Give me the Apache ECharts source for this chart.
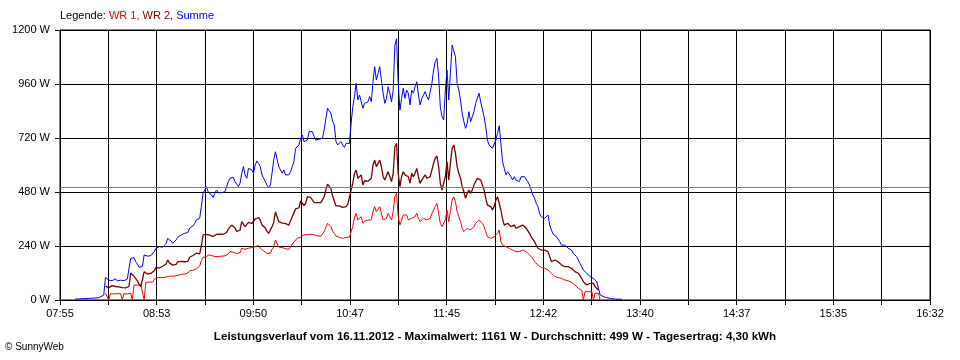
<!DOCTYPE html>
<html><head><meta charset="utf-8">
<script src="https://cdn.jsdelivr.net/npm/echarts@6/dist/echarts.min.js"></script>
<style>html,body{margin:0;padding:0;background:#fff}#c{width:960px;height:360px}</style>
</head><body><div id="c"></div>
<script>
// ---- data ----
const headTimes = ["08:04","08:09","08:14","08:18","08:19","08:21"];
const headSumme = [4, 6, 8, 10, 18, 22];

const times = [
"08:22","08:23","08:24","08:25","08:26","08:27","08:28","08:29","08:30","08:31","08:32","08:33","08:34","08:35","08:36","08:37","08:38","08:39","08:40","08:41","08:42","08:43","08:44","08:45","08:46","08:47","08:48","08:49","08:50","08:51","08:52","08:53","08:54","08:55","08:56","08:57","08:58","08:59",
"09:00","09:01","09:02","09:03","09:04","09:05","09:06","09:07","09:08","09:09","09:10","09:11","09:12","09:13","09:14","09:15","09:16","09:17","09:18","09:19","09:20","09:21","09:22","09:23","09:24","09:25","09:26","09:27","09:28","09:29","09:30","09:31","09:32","09:33","09:34","09:35","09:36","09:37","09:38","09:39","09:40","09:41","09:42","09:43","09:44","09:45","09:46","09:47","09:48","09:49","09:50","09:51","09:52","09:53","09:54","09:55","09:56","09:57","09:58","09:59",
"10:00","10:01","10:02","10:03","10:04","10:05","10:06","10:07","10:08","10:09","10:10","10:11","10:12","10:13","10:14","10:15","10:16","10:17","10:18","10:19","10:20","10:21","10:22","10:23","10:24","10:25","10:26","10:27","10:28","10:29","10:30","10:31","10:32","10:33","10:34","10:35","10:36","10:37","10:38","10:39","10:40","10:41","10:42","10:43","10:44","10:45","10:46","10:47","10:48","10:49","10:50","10:51","10:52","10:53","10:54","10:55","10:56","10:57","10:58","10:59",
"11:00","11:01","11:02","11:03","11:04","11:05","11:06","11:07","11:08","11:09","11:10","11:11","11:12","11:13","11:14","11:15","11:16","11:17","11:18","11:19","11:20","11:21","11:22","11:23","11:24","11:25","11:26","11:27","11:28","11:29","11:30","11:31","11:32","11:33","11:34","11:35","11:36","11:37","11:38","11:39","11:40","11:41","11:42","11:43","11:44","11:45","11:46","11:47","11:48","11:49","11:50","11:51","11:52","11:53","11:54","11:55","11:56","11:57","11:58","11:59",
"12:00","12:01","12:02","12:03","12:04","12:05","12:06","12:07","12:08","12:09","12:10","12:11","12:12","12:13","12:14","12:15","12:16","12:17","12:18","12:19","12:20","12:21","12:22","12:23","12:24","12:25","12:26","12:27","12:28","12:29","12:30","12:31","12:32","12:33","12:34","12:35","12:36","12:37","12:38","12:39","12:40","12:41","12:42","12:43","12:44","12:45","12:46","12:47","12:48","12:49","12:50","12:51","12:52","12:53","12:54","12:55","12:56","12:57","12:58","12:59",
"13:00","13:01","13:02","13:03","13:04","13:05","13:06","13:07","13:08","13:09","13:10","13:11","13:12","13:13","13:14","13:15","13:16"
];

const summe = [
100,95,88,92,86,90,94,85,90,88,92,86,90,93,88,
185,190,188,170,160,145,142,150,200,198, 195,193,197,195,215,230,232,237,230,235,
228,250,274,270,262,252,258,267,279,285, 289,292,296,294,300,319,325,329,340,356, 360,363,
415,474,489,504,481,474,467,456,474,489, 477,471,477,474,481,489,526,541,548,545,
526,519,504,519,563,593,556,541,585,593, 578,563,600,618,607,593,556,541,526,511,
499,511,563,622,659,652,593,578,563,578, 556,548,556,570,578,615,674,678,689,719,
733,704,696,711,748,756,748,726,711,719, 715,711,719,756,807,852,856,830,793,778,
704,689,696,704,689,678,696,700,696,
785,859,904,963,889,911,919,852,874,878, 881,904,881,970,1037,978,1007,1037,978,919,
874,896,948,919,881,933,1133,1161,960,844, 896,941,896,933,919,867,933,919,948,970,
911,867,896,911,926,904,889,926,963,1022, 1059,1074,993,859,815,800,933,1022,889,1007,
1133,1141,1081,963,933,889,830,793,763,785, 837,793,815,837,874,896,919,881,881,815,
770,711,689,689,
674,681,711,741,775,696,615,585,556,570, 563,548,533,548,533,541,526,548,556,548,
541,526,511,489,467,452,430,415,385,370, 370,363,370,378,333,311,293,289,281,274,
259,244,244,244,237,230,230,222,207,200, 193,178,163,148,133,126,119,111,104,96,
96,89,81,74,22
];

const wr2 = [
62,60,55,58,64,56,60,52,58,62,55,60,54,58,60,
120,118,105,95,85,70,60,90,126,120, 115,112,118,115,130,145,148,142,145,150,
143,160,178,165,160,155,162,158,170,168, 172,165,170,174,172,190,195,198,205,208, 210,205,
240,289,290,292,290,288,285,282,285,292, 290,293,290,292,295,300,315,318,333,330,
320,305,302,310,348,345,326,326,345,348, 340,333,360,368,366,355,333,325,320,305,
296,300,326,345,392,385,348,345,342,348, 340,333,333,335,370,372,405,405,410,440,
442,420,430,459,455,455,452,433,430,433, 430,433,440,459,490,515,512,496,462,460,
418,415,418,410,412,405,415,425,425,
489,519,563,578,541,548,556,511,530,530, 528,533,541,600,622,593,607,622,593,548,
533,541,570,548,526,563,681,696,560,504, 548,570,556,563,548,519,563,548,563,585,
548,519,533,541,556,541,533,548,578,607, 630,640,593,519,489,481,548,615,533,607,
674,689,652,593,563,541,504,481,452,474, 489,474,489,511,526,541,548,533,530,489,
452,422,415,415,
400,415,444,459,465,400,360,333,326,341, 341,326,319,333,319,326,326,333,333,326,
319,311,296,281,274,259,244,230,230,222, 222,222,230,215,193,170,163,178,170,170,
163,156,148,148,148,148,148,141,133,126, 119,119,111,96,81,74,67,67,74,67,
74,59,52,44,null
];

const wr1 = [
30,30,0,28,28,27,28,28,27,28,0,28,28,27,28,
30,0,66,67,66,68,67,70,0,78, 78,80,78,80,92,100,100,102,100,102,
100,104,105,105,106,105,106,107,110,115, 114,116,115,118,120,130,131,132,135,138, 145,150,
175,190,188,190,200,200,198,193,193,195, 193,195,195,193,196,198,205,215,215,212,
207,207,207,210,230,228,225,227,230,233, 233,235,237,244,242,230,222,218,215,207,
205,208,225,235,267,260,235,235,233,235, 228,227,225,228,248,258,262,275,278,278,
282,290,292,290,295,292,292,290,292,285, 285,283,288,304,325,341,338,326,305,296,
285,278,278,276,274,274,278,281,280,
304,326,370,385,356,363,370,341,350,352, 355,363,356,393,415,393,400,415,385,356,
348,363,385,370,356,393,459,474,370,333, 356,378,370,378,356,348,363,370,370,385,
363,348,348,363,370,356,348,363,385,400, 415,430,385,341,326,326,356,400,348,393,
444,459,437,393,370,348,319,304,311,319, 326,311,319,326,341,348,356,348,341,326,
304,281,274,274,
274,281,289,296,311,260,244,237,237,230, 230,222,222,222,215,215,215,222,222,215,
215,207,200,193,185,170,163,156,148,145, 141,141,137,133,126,119,111,104,104,100,
96,96,92,89,89,85,81,78,74,67, 59,52,44,44,0,37,37,37,37,37,
0,30,30,30,0
];

const tailTimes = ["13:19","13:22","13:25","13:29"];
const tailSumme = [12, 7, 4, 3];

const xTickLabels = ["07:55","08:53","09:50","10:47","11:45","12:42","13:40","14:37","15:35","16:32"];
const yMax = 1200, yStep = 240;
const maxWert = 1161, durchschnitt = 499, tagesertrag = "4,30";
const datum = "16.11.2012";

// ---- build ----
function toMin(s){ const p = s.split(":"); return (+p[0])*60 + (+p[1]); }
const t0 = toMin(xTickLabels[0]);
const span = toMin(xTickLabels[xTickLabels.length-1]) - t0;
const nGrid = (xTickLabels.length-1)*2;          // 18 gridline intervals
const unit = span / nGrid;
const X = s => (toMin(s) - t0) / unit;

const allTimes = headTimes.concat(times, tailTimes);
const nulls = n => new Array(n).fill(null);
const sSumme = headSumme.concat(summe, tailSumme);
const sWr1 = nulls(headTimes.length).concat(wr1, nulls(tailTimes.length));
const sWr2 = nulls(headTimes.length).concat(wr2, nulls(tailTimes.length));
const pair = arr => allTimes.map((t,i)=>[X(t), arr[i]]);

const FONT = "Liberation Sans, Arial, sans-serif";
const chart = echarts.init(document.getElementById('c'), null, {renderer:'canvas'});
chart.setOption({
  animation:false,
  backgroundColor:'#fff',
  grid:{left:60, right:30, top:30, bottom:60, show:true, borderColor:'#000', borderWidth:1, backgroundColor:'transparent'},
  xAxis:{
    type:'value', min:0, max:nGrid, interval:1,
    axisLine:{lineStyle:{color:'#000', width:1}},
    axisTick:{show:true, length:5, lineStyle:{color:'#000'}},
    splitLine:{show:true, lineStyle:{color:'#000', width:1}},
    axisLabel:{color:'#000', fontSize:11, fontFamily:FONT, margin:8,
      formatter:v=>{ const i=Math.round(v); return i%2===0 ? xTickLabels[i/2] : ''; }}
  },
  yAxis:{
    type:'value', min:0, max:yMax, interval:yStep,
    axisLine:{show:true, lineStyle:{color:'#000', width:1}},
    axisTick:{show:true, length:5, lineStyle:{color:'#000'}},
    splitLine:{show:true, lineStyle:{color:'#000', width:1}},
    axisLabel:{color:'#000', fontSize:11, fontFamily:FONT, margin:10, formatter:v => Math.round(v) + ' W'}
  },
  series:[
    {name:'WR 1', type:'line', data:pair(sWr1), showSymbol:false, connectNulls:false,
     lineStyle:{color:'#ff0000', width:1}, itemStyle:{color:'#ff0000'}, z:3},
    {name:'WR 2', type:'line', data:pair(sWr2), showSymbol:false, connectNulls:false,
     lineStyle:{color:'#800000', width:1.3}, itemStyle:{color:'#800000'}, z:3},
    {name:'Summe', type:'line', data:pair(sSumme), showSymbol:false,
     lineStyle:{color:'#0000ff', width:1}, itemStyle:{color:'#0000ff'}, z:4,
     markLine:{silent:true, symbol:'none', label:{show:false},
       lineStyle:{color:'#808080', type:'solid', width:1},
       data:[{yAxis:durchschnitt}]}}
  ],
  graphic:[
    {type:'text', left:60, top:10, style:{
      text:'{k|Legende: }{r|WR 1, }{d|WR 2, }{b|Summe}',
      rich:{k:{fill:'#000', fontSize:11, fontFamily:FONT},
            r:{fill:'#ff0000', fontSize:11, fontFamily:FONT},
            d:{fill:'#800000', fontSize:11, fontFamily:FONT},
            b:{fill:'#0000ff', fontSize:11, fontFamily:FONT}}}},
    {type:'text', x:495, y:337, style:{
      text:'Leistungsverlauf vom '+datum+' - Maximalwert: '+maxWert+' W - Durchschnitt: '+durchschnitt+' W - Tagesertrag: '+tagesertrag+' kWh',
      fill:'#000', fontSize:11.6, fontWeight:'bold', fontFamily:FONT, align:'center', verticalAlign:'middle'}},
    {type:'text', x:5, y:347, style:{text:'© SunnyWeb', fill:'#000', fontSize:10, fontFamily:FONT, align:'left', verticalAlign:'middle'}}
  ]
});
</script></body></html>
